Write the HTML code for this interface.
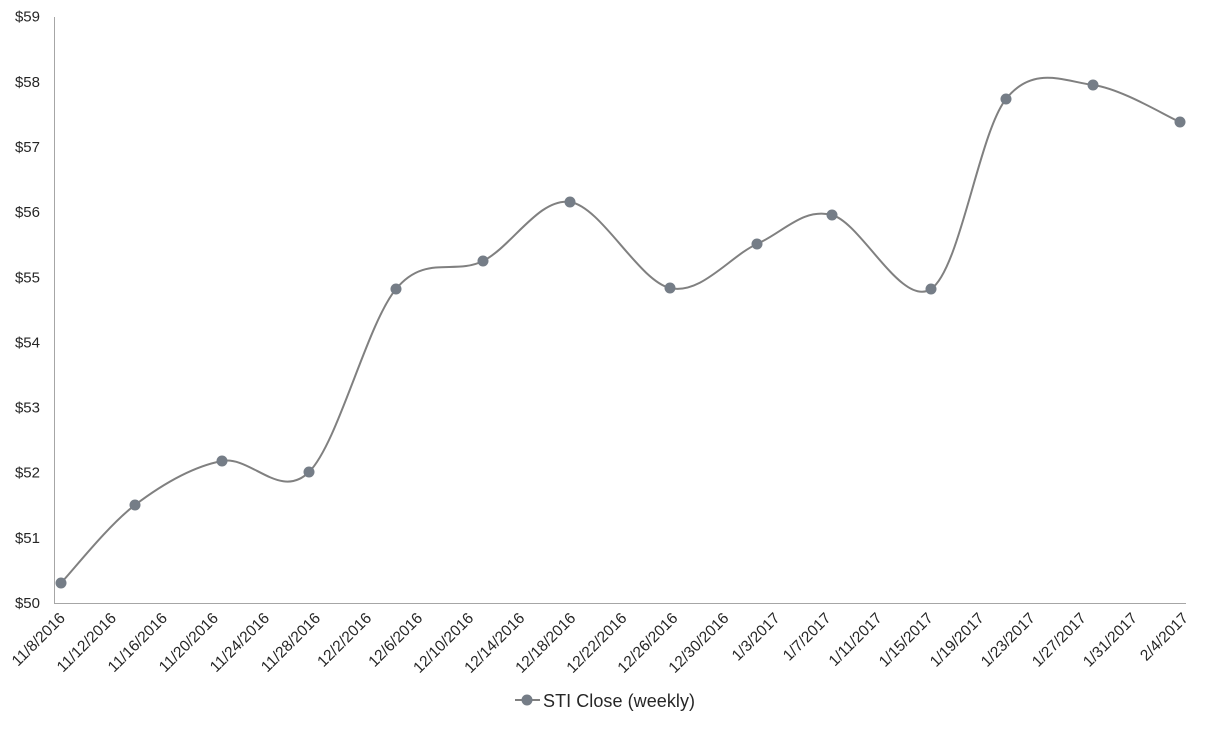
<!DOCTYPE html>
<html><head><style>body{margin:0;background:#fff}svg{font-family:"Liberation Sans",Calibri,sans-serif}</style></head>
<body>
<svg id="s" width="1208" height="727" viewBox="0 0 1208 727">
<g stroke="#a6a6a6" stroke-width="1" fill="none">
<line x1="54.5" y1="17" x2="54.5" y2="603.5"/>
<line x1="54" y1="603.5" x2="1186" y2="603.5"/>
</g>
<g id="yl" font-size="15" fill="#262626" text-anchor="end"></g>
<g id="xl" font-size="15.5" fill="#262626" text-anchor="end"></g>
<path id="p" fill="none" stroke="#808080" stroke-width="2"/>
<g id="m" fill="#757d87"></g>
<line x1="515" y1="700" x2="540" y2="700" stroke="#808080" stroke-width="2"/>
<circle cx="527" cy="700" r="5.5" fill="#757d87"/>
<text x="543" y="707" font-size="18" fill="#262626" textLength="152">STI Close  (weekly)</text>
</svg>
<script>
var NS="http://www.w3.org/2000/svg";
function el(t,a,p,txt){var e=document.createElementNS(NS,t);for(var k in a)e.setAttribute(k,a[k]);if(txt)e.textContent=txt;document.getElementById(p).appendChild(e);}
for(var i=0;i<=9;i++){el("text",{x:40,y:603-i*65.15+5},"yl","$"+(50+i));}
for(var i=0;i<23;i++){var dt=new Date(2016,10,8+4*i);var x=60+i*51.05;
el("text",{x:0,y:0,transform:"translate("+(x+6)+",619) rotate(-45)"},"xl",(dt.getMonth()+1)+"/"+dt.getDate()+"/"+dt.getFullYear());}
var P=[[61,583],[135,505],[222,461],[309,472],[396,289],[483,261],[570,202],[670,288],[757,244],[832,215],[931,289],[1006,99],[1093,85],[1180,122]];
var s="M"+P[0][0]+","+P[0][1];
for(var i=0;i<P.length-1;i++){var p0=P[Math.max(i-1,0)],p1=P[i],p2=P[i+1],p3=P[Math.min(i+2,P.length-1)];
var c1=[p1[0]+(p2[0]-p0[0])/6,p1[1]+(p2[1]-p0[1])/6],c2=[p2[0]-(p3[0]-p1[0])/6,p2[1]-(p3[1]-p1[1])/6];
s+=" C"+c1+" "+c2+" "+p2;}
document.getElementById("p").setAttribute("d",s);
P.forEach(function(p){el("circle",{cx:p[0],cy:p[1],r:5.5},"m");});
</script>
</body></html>
